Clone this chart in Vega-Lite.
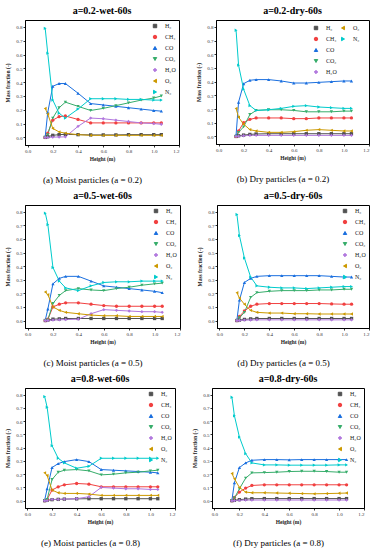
{
"$schema": "https://vega.github.io/schema/vega-lite/v6.json",
"background": "white",
"padding": {"left": 5, "top": 5, "right": 2, "bottom": 0},
"config": {
 "font": "Liberation Serif",
 "view": {"stroke": "#000", "strokeWidth": 1},
 "axis": {"grid": false, "domainColor": "#000", "domainWidth": 1, "tickColor": "#000", "tickSize": 2, "tickWidth": 0.8, "labelFontSize": 5, "labelColor": "#333", "labelPadding": 1, "titleFontSize": 5.5, "titleFontWeight": "bold", "titleColor": "#222", "titlePadding": 3, "labelFont": "Liberation Serif", "titleFont": "Liberation Serif"},
 "axisY": {"titlePadding": 5},
 "legend": {"orient": "top-right", "offset": 3, "padding": 0, "labelFontSize": 6, "labelFont": "Liberation Serif", "labelColor": "#222", "symbolSize": 12, "rowPadding": 3, "labelOffset": 7, "symbolStrokeWidth": 0},
 "title": {"fontSize": 10, "font": "Liberation Serif", "fontWeight": "bold", "offset": 4, "color": "#000", "frame": "group", "anchor": "middle"},
 "point": {"filled": true, "size": 11, "opacity": 1},
 "line": {"strokeWidth": 1},
 "concat": {"spacing": 16}
},
"datasets": {
"pa": [
{"s":"H₂","h":0.14,"v":0},{"s":"H₂","h":0.16,"v":0.005},{"s":"H₂","h":0.2,"v":0.015},{"s":"H₂","h":0.25,"v":0.02},{"s":"H₂","h":0.3,"v":0.022},{"s":"H₂","h":0.4,"v":0.02},{"s":"H₂","h":0.5,"v":0.018},{"s":"H₂","h":0.6,"v":0.018},{"s":"H₂","h":0.7,"v":0.018},{"s":"H₂","h":0.8,"v":0.02},{"s":"H₂","h":0.9,"v":0.02},{"s":"H₂","h":1.0,"v":0.02},{"s":"H₂","h":1.06,"v":0.02},
{"s":"CH₄","h":0.14,"v":0},{"s":"CH₄","h":0.16,"v":0.03},{"s":"CH₄","h":0.2,"v":0.125},{"s":"CH₄","h":0.25,"v":0.15},{"s":"CH₄","h":0.3,"v":0.155},{"s":"CH₄","h":0.4,"v":0.13},{"s":"CH₄","h":0.5,"v":0.105},{"s":"CH₄","h":0.6,"v":0.105},{"s":"CH₄","h":0.7,"v":0.105},{"s":"CH₄","h":0.8,"v":0.105},{"s":"CH₄","h":0.9,"v":0.105},{"s":"CH₄","h":1.0,"v":0.105},{"s":"CH₄","h":1.06,"v":0.105},
{"s":"CO","h":0.14,"v":0.005},{"s":"CO","h":0.16,"v":0.18},{"s":"CO","h":0.2,"v":0.37},{"s":"CO","h":0.25,"v":0.39},{"s":"CO","h":0.3,"v":0.39},{"s":"CO","h":0.4,"v":0.32},{"s":"CO","h":0.5,"v":0.245},{"s":"CO","h":0.6,"v":0.235},{"s":"CO","h":0.7,"v":0.225},{"s":"CO","h":0.8,"v":0.215},{"s":"CO","h":0.9,"v":0.205},{"s":"CO","h":1.0,"v":0.195},{"s":"CO","h":1.06,"v":0.19},
{"s":"CO₂","h":0.14,"v":0},{"s":"CO₂","h":0.16,"v":0.02},{"s":"CO₂","h":0.2,"v":0.14},{"s":"CO₂","h":0.25,"v":0.215},{"s":"CO₂","h":0.3,"v":0.255},{"s":"CO₂","h":0.4,"v":0.225},{"s":"CO₂","h":0.5,"v":0.195},{"s":"CO₂","h":0.6,"v":0.21},{"s":"CO₂","h":0.7,"v":0.23},{"s":"CO₂","h":0.8,"v":0.25},{"s":"CO₂","h":0.9,"v":0.27},{"s":"CO₂","h":1.0,"v":0.285},{"s":"CO₂","h":1.06,"v":0.3},
{"s":"H₂O","h":0.14,"v":0},{"s":"H₂O","h":0.16,"v":0},{"s":"H₂O","h":0.2,"v":0.002},{"s":"H₂O","h":0.25,"v":0.003},{"s":"H₂O","h":0.3,"v":0.004},{"s":"H₂O","h":0.4,"v":0.08},{"s":"H₂O","h":0.5,"v":0.14},{"s":"H₂O","h":0.6,"v":0.135},{"s":"H₂O","h":0.7,"v":0.125},{"s":"H₂O","h":0.8,"v":0.115},{"s":"H₂O","h":0.9,"v":0.105},{"s":"H₂O","h":1.0,"v":0.1},{"s":"H₂O","h":1.06,"v":0.095},
{"s":"O₂","h":0.14,"v":0.21},{"s":"O₂","h":0.16,"v":0.17},{"s":"O₂","h":0.2,"v":0.065},{"s":"O₂","h":0.25,"v":0.04},{"s":"O₂","h":0.3,"v":0.03},{"s":"O₂","h":0.4,"v":0.02},{"s":"O₂","h":0.5,"v":0.015},{"s":"O₂","h":0.6,"v":0.015},{"s":"O₂","h":0.7,"v":0.015},{"s":"O₂","h":0.8,"v":0.015},{"s":"O₂","h":0.9,"v":0.015},{"s":"O₂","h":1.0,"v":0.015},{"s":"O₂","h":1.06,"v":0.015},
{"s":"N₂","h":0.14,"v":0.79},{"s":"N₂","h":0.16,"v":0.61},{"s":"N₂","h":0.2,"v":0.27},{"s":"N₂","h":0.25,"v":0.175},{"s":"N₂","h":0.3,"v":0.14},{"s":"N₂","h":0.4,"v":0.205},{"s":"N₂","h":0.5,"v":0.28},{"s":"N₂","h":0.6,"v":0.28},{"s":"N₂","h":0.7,"v":0.28},{"s":"N₂","h":0.8,"v":0.275},{"s":"N₂","h":0.9,"v":0.275},{"s":"N₂","h":1.0,"v":0.27},{"s":"N₂","h":1.06,"v":0.27}
],
"pb": [
{"s":"H₂","h":0.14,"v":0},{"s":"H₂","h":0.16,"v":0.005},{"s":"H₂","h":0.2,"v":0.01},{"s":"H₂","h":0.25,"v":0.015},{"s":"H₂","h":0.3,"v":0.018},{"s":"H₂","h":0.4,"v":0.02},{"s":"H₂","h":0.5,"v":0.02},{"s":"H₂","h":0.6,"v":0.02},{"s":"H₂","h":0.7,"v":0.02},{"s":"H₂","h":0.8,"v":0.02},{"s":"H₂","h":0.9,"v":0.02},{"s":"H₂","h":1.0,"v":0.02},{"s":"H₂","h":1.06,"v":0.02},
{"s":"CH₄","h":0.14,"v":0},{"s":"CH₄","h":0.16,"v":0.04},{"s":"CH₄","h":0.2,"v":0.1},{"s":"CH₄","h":0.25,"v":0.125},{"s":"CH₄","h":0.3,"v":0.135},{"s":"CH₄","h":0.4,"v":0.135},{"s":"CH₄","h":0.5,"v":0.135},{"s":"CH₄","h":0.6,"v":0.13},{"s":"CH₄","h":0.7,"v":0.13},{"s":"CH₄","h":0.8,"v":0.135},{"s":"CH₄","h":0.9,"v":0.135},{"s":"CH₄","h":1.0,"v":0.135},{"s":"CH₄","h":1.06,"v":0.135},
{"s":"CO","h":0.14,"v":0.01},{"s":"CO","h":0.16,"v":0.25},{"s":"CO","h":0.2,"v":0.385},{"s":"CO","h":0.25,"v":0.41},{"s":"CO","h":0.3,"v":0.415},{"s":"CO","h":0.4,"v":0.415},{"s":"CO","h":0.5,"v":0.405},{"s":"CO","h":0.6,"v":0.39},{"s":"CO","h":0.7,"v":0.39},{"s":"CO","h":0.8,"v":0.395},{"s":"CO","h":0.9,"v":0.4},{"s":"CO","h":1.0,"v":0.405},{"s":"CO","h":1.06,"v":0.405},
{"s":"CO₂","h":0.14,"v":0},{"s":"CO₂","h":0.16,"v":0.03},{"s":"CO₂","h":0.2,"v":0.07},{"s":"CO₂","h":0.25,"v":0.16},{"s":"CO₂","h":0.3,"v":0.19},{"s":"CO₂","h":0.4,"v":0.195},{"s":"CO₂","h":0.5,"v":0.195},{"s":"CO₂","h":0.6,"v":0.19},{"s":"CO₂","h":0.7,"v":0.18},{"s":"CO₂","h":0.8,"v":0.18},{"s":"CO₂","h":0.9,"v":0.18},{"s":"CO₂","h":1.0,"v":0.185},{"s":"CO₂","h":1.06,"v":0.185},
{"s":"H₂O","h":0.14,"v":0},{"s":"H₂O","h":0.16,"v":0.002},{"s":"H₂O","h":0.2,"v":0.005},{"s":"H₂O","h":0.25,"v":0.008},{"s":"H₂O","h":0.3,"v":0.008},{"s":"H₂O","h":0.4,"v":0.008},{"s":"H₂O","h":0.5,"v":0.008},{"s":"H₂O","h":0.6,"v":0.008},{"s":"H₂O","h":0.7,"v":0.008},{"s":"H₂O","h":0.8,"v":0.008},{"s":"H₂O","h":0.9,"v":0.008},{"s":"H₂O","h":1.0,"v":0.008},{"s":"H₂O","h":1.06,"v":0.008},
{"s":"O₂","h":0.14,"v":0.205},{"s":"O₂","h":0.16,"v":0.14},{"s":"O₂","h":0.2,"v":0.09},{"s":"O₂","h":0.25,"v":0.05},{"s":"O₂","h":0.3,"v":0.04},{"s":"O₂","h":0.4,"v":0.03},{"s":"O₂","h":0.5,"v":0.03},{"s":"O₂","h":0.6,"v":0.035},{"s":"O₂","h":0.7,"v":0.045},{"s":"O₂","h":0.8,"v":0.05},{"s":"O₂","h":0.9,"v":0.045},{"s":"O₂","h":1.0,"v":0.04},{"s":"O₂","h":1.06,"v":0.04},
{"s":"N₂","h":0.14,"v":0.775},{"s":"N₂","h":0.16,"v":0.52},{"s":"N₂","h":0.2,"v":0.345},{"s":"N₂","h":0.25,"v":0.225},{"s":"N₂","h":0.3,"v":0.19},{"s":"N₂","h":0.4,"v":0.195},{"s":"N₂","h":0.5,"v":0.205},{"s":"N₂","h":0.6,"v":0.22},{"s":"N₂","h":0.7,"v":0.225},{"s":"N₂","h":0.8,"v":0.215},{"s":"N₂","h":0.9,"v":0.21},{"s":"N₂","h":1.0,"v":0.205},{"s":"N₂","h":1.06,"v":0.205}
],
"pc": [
{"s":"H₂","h":0.14,"v":0},{"s":"H₂","h":0.16,"v":0.003},{"s":"H₂","h":0.2,"v":0.01},{"s":"H₂","h":0.25,"v":0.012},{"s":"H₂","h":0.3,"v":0.015},{"s":"H₂","h":0.4,"v":0.015},{"s":"H₂","h":0.5,"v":0.015},{"s":"H₂","h":0.6,"v":0.015},{"s":"H₂","h":0.7,"v":0.015},{"s":"H₂","h":0.8,"v":0.015},{"s":"H₂","h":0.9,"v":0.015},{"s":"H₂","h":1.0,"v":0.015},{"s":"H₂","h":1.06,"v":0.015},
{"s":"CH₄","h":0.14,"v":0},{"s":"CH₄","h":0.16,"v":0.01},{"s":"CH₄","h":0.2,"v":0.1},{"s":"CH₄","h":0.25,"v":0.12},{"s":"CH₄","h":0.3,"v":0.13},{"s":"CH₄","h":0.4,"v":0.13},{"s":"CH₄","h":0.5,"v":0.12},{"s":"CH₄","h":0.6,"v":0.11},{"s":"CH₄","h":0.7,"v":0.105},{"s":"CH₄","h":0.8,"v":0.105},{"s":"CH₄","h":0.9,"v":0.105},{"s":"CH₄","h":1.0,"v":0.105},{"s":"CH₄","h":1.06,"v":0.105},
{"s":"CO","h":0.14,"v":0.005},{"s":"CO","h":0.16,"v":0.085},{"s":"CO","h":0.2,"v":0.27},{"s":"CO","h":0.25,"v":0.31},{"s":"CO","h":0.3,"v":0.325},{"s":"CO","h":0.4,"v":0.325},{"s":"CO","h":0.5,"v":0.29},{"s":"CO","h":0.6,"v":0.255},{"s":"CO","h":0.7,"v":0.245},{"s":"CO","h":0.8,"v":0.235},{"s":"CO","h":0.9,"v":0.225},{"s":"CO","h":1.0,"v":0.215},{"s":"CO","h":1.06,"v":0.205},
{"s":"CO₂","h":0.14,"v":0},{"s":"CO₂","h":0.16,"v":0.005},{"s":"CO₂","h":0.2,"v":0.125},{"s":"CO₂","h":0.25,"v":0.185},{"s":"CO₂","h":0.3,"v":0.22},{"s":"CO₂","h":0.4,"v":0.235},{"s":"CO₂","h":0.5,"v":0.225},{"s":"CO₂","h":0.6,"v":0.22},{"s":"CO₂","h":0.7,"v":0.235},{"s":"CO₂","h":0.8,"v":0.245},{"s":"CO₂","h":0.9,"v":0.26},{"s":"CO₂","h":1.0,"v":0.27},{"s":"CO₂","h":1.06,"v":0.275},
{"s":"H₂O","h":0.14,"v":0},{"s":"H₂O","h":0.16,"v":0},{"s":"H₂O","h":0.2,"v":0.003},{"s":"H₂O","h":0.25,"v":0.005},{"s":"H₂O","h":0.3,"v":0.007},{"s":"H₂O","h":0.4,"v":0.01},{"s":"H₂O","h":0.5,"v":0.05},{"s":"H₂O","h":0.6,"v":0.08},{"s":"H₂O","h":0.7,"v":0.075},{"s":"H₂O","h":0.8,"v":0.07},{"s":"H₂O","h":0.9,"v":0.065},{"s":"H₂O","h":1.0,"v":0.065},{"s":"H₂O","h":1.06,"v":0.06},
{"s":"O₂","h":0.14,"v":0.21},{"s":"O₂","h":0.16,"v":0.19},{"s":"O₂","h":0.2,"v":0.1},{"s":"O₂","h":0.25,"v":0.075},{"s":"O₂","h":0.3,"v":0.06},{"s":"O₂","h":0.4,"v":0.05},{"s":"O₂","h":0.5,"v":0.04},{"s":"O₂","h":0.6,"v":0.035},{"s":"O₂","h":0.7,"v":0.035},{"s":"O₂","h":0.8,"v":0.03},{"s":"O₂","h":0.9,"v":0.03},{"s":"O₂","h":1.0,"v":0.03},{"s":"O₂","h":1.06,"v":0.03},
{"s":"N₂","h":0.14,"v":0.79},{"s":"N₂","h":0.16,"v":0.705},{"s":"N₂","h":0.2,"v":0.39},{"s":"N₂","h":0.25,"v":0.29},{"s":"N₂","h":0.3,"v":0.24},{"s":"N₂","h":0.4,"v":0.22},{"s":"N₂","h":0.5,"v":0.255},{"s":"N₂","h":0.6,"v":0.28},{"s":"N₂","h":0.7,"v":0.285},{"s":"N₂","h":0.8,"v":0.285},{"s":"N₂","h":0.9,"v":0.29},{"s":"N₂","h":1.0,"v":0.29},{"s":"N₂","h":1.06,"v":0.29}
],
"pd": [
{"s":"H₂","h":0.14,"v":0},{"s":"H₂","h":0.16,"v":0.003},{"s":"H₂","h":0.2,"v":0.008},{"s":"H₂","h":0.25,"v":0.012},{"s":"H₂","h":0.3,"v":0.015},{"s":"H₂","h":0.4,"v":0.015},{"s":"H₂","h":0.5,"v":0.015},{"s":"H₂","h":0.6,"v":0.015},{"s":"H₂","h":0.7,"v":0.015},{"s":"H₂","h":0.8,"v":0.015},{"s":"H₂","h":0.9,"v":0.015},{"s":"H₂","h":1.0,"v":0.015},{"s":"H₂","h":1.06,"v":0.015},
{"s":"CH₄","h":0.14,"v":0},{"s":"CH₄","h":0.16,"v":0.03},{"s":"CH₄","h":0.2,"v":0.07},{"s":"CH₄","h":0.25,"v":0.105},{"s":"CH₄","h":0.3,"v":0.12},{"s":"CH₄","h":0.4,"v":0.125},{"s":"CH₄","h":0.5,"v":0.125},{"s":"CH₄","h":0.6,"v":0.125},{"s":"CH₄","h":0.7,"v":0.125},{"s":"CH₄","h":0.8,"v":0.125},{"s":"CH₄","h":0.9,"v":0.122},{"s":"CH₄","h":1.0,"v":0.12},{"s":"CH₄","h":1.06,"v":0.12},
{"s":"CO","h":0.14,"v":0.005},{"s":"CO","h":0.16,"v":0.15},{"s":"CO","h":0.2,"v":0.28},{"s":"CO","h":0.25,"v":0.31},{"s":"CO","h":0.3,"v":0.325},{"s":"CO","h":0.4,"v":0.33},{"s":"CO","h":0.5,"v":0.33},{"s":"CO","h":0.6,"v":0.33},{"s":"CO","h":0.7,"v":0.33},{"s":"CO","h":0.8,"v":0.33},{"s":"CO","h":0.9,"v":0.325},{"s":"CO","h":1.0,"v":0.32},{"s":"CO","h":1.06,"v":0.32},
{"s":"CO₂","h":0.14,"v":0},{"s":"CO₂","h":0.16,"v":0.02},{"s":"CO₂","h":0.2,"v":0.06},{"s":"CO₂","h":0.25,"v":0.17},{"s":"CO₂","h":0.3,"v":0.205},{"s":"CO₂","h":0.4,"v":0.215},{"s":"CO₂","h":0.5,"v":0.22},{"s":"CO₂","h":0.6,"v":0.22},{"s":"CO₂","h":0.7,"v":0.22},{"s":"CO₂","h":0.8,"v":0.225},{"s":"CO₂","h":0.9,"v":0.225},{"s":"CO₂","h":1.0,"v":0.23},{"s":"CO₂","h":1.06,"v":0.23},
{"s":"H₂O","h":0.14,"v":0},{"s":"H₂O","h":0.16,"v":0},{"s":"H₂O","h":0.2,"v":0.003},{"s":"H₂O","h":0.25,"v":0.004},{"s":"H₂O","h":0.3,"v":0.005},{"s":"H₂O","h":0.4,"v":0.005},{"s":"H₂O","h":0.5,"v":0.005},{"s":"H₂O","h":0.6,"v":0.005},{"s":"H₂O","h":0.7,"v":0.005},{"s":"H₂O","h":0.8,"v":0.005},{"s":"H₂O","h":0.9,"v":0.005},{"s":"H₂O","h":1.0,"v":0.005},{"s":"H₂O","h":1.06,"v":0.005},
{"s":"O₂","h":0.14,"v":0.205},{"s":"O₂","h":0.16,"v":0.165},{"s":"O₂","h":0.2,"v":0.12},{"s":"O₂","h":0.25,"v":0.075},{"s":"O₂","h":0.3,"v":0.06},{"s":"O₂","h":0.4,"v":0.055},{"s":"O₂","h":0.5,"v":0.055},{"s":"O₂","h":0.6,"v":0.05},{"s":"O₂","h":0.7,"v":0.05},{"s":"O₂","h":0.8,"v":0.048},{"s":"O₂","h":0.9,"v":0.048},{"s":"O₂","h":1.0,"v":0.048},{"s":"O₂","h":1.06,"v":0.048},
{"s":"N₂","h":0.14,"v":0.78},{"s":"N₂","h":0.16,"v":0.625},{"s":"N₂","h":0.2,"v":0.46},{"s":"N₂","h":0.25,"v":0.32},{"s":"N₂","h":0.3,"v":0.255},{"s":"N₂","h":0.4,"v":0.245},{"s":"N₂","h":0.5,"v":0.24},{"s":"N₂","h":0.6,"v":0.24},{"s":"N₂","h":0.7,"v":0.235},{"s":"N₂","h":0.8,"v":0.24},{"s":"N₂","h":0.9,"v":0.245},{"s":"N₂","h":1.0,"v":0.25},{"s":"N₂","h":1.06,"v":0.25}
],
"pe": [
{"s":"H₂","h":0.14,"v":0},{"s":"H₂","h":0.16,"v":0.003},{"s":"H₂","h":0.2,"v":0.008},{"s":"H₂","h":0.25,"v":0.01},{"s":"H₂","h":0.3,"v":0.012},{"s":"H₂","h":0.4,"v":0.014},{"s":"H₂","h":0.5,"v":0.015},{"s":"H₂","h":0.6,"v":0.015},{"s":"H₂","h":0.7,"v":0.015},{"s":"H₂","h":0.8,"v":0.015},{"s":"H₂","h":0.9,"v":0.015},{"s":"H₂","h":1.0,"v":0.015},{"s":"H₂","h":1.06,"v":0.015},
{"s":"CH₄","h":0.14,"v":0},{"s":"CH₄","h":0.16,"v":0.01},{"s":"CH₄","h":0.2,"v":0.08},{"s":"CH₄","h":0.25,"v":0.105},{"s":"CH₄","h":0.3,"v":0.12},{"s":"CH₄","h":0.4,"v":0.13},{"s":"CH₄","h":0.5,"v":0.125},{"s":"CH₄","h":0.6,"v":0.105},{"s":"CH₄","h":0.7,"v":0.105},{"s":"CH₄","h":0.8,"v":0.105},{"s":"CH₄","h":0.9,"v":0.105},{"s":"CH₄","h":1.0,"v":0.105},{"s":"CH₄","h":1.06,"v":0.105},
{"s":"CO","h":0.14,"v":0.005},{"s":"CO","h":0.16,"v":0.09},{"s":"CO","h":0.2,"v":0.25},{"s":"CO","h":0.25,"v":0.28},{"s":"CO","h":0.3,"v":0.295},{"s":"CO","h":0.4,"v":0.31},{"s":"CO","h":0.5,"v":0.295},{"s":"CO","h":0.6,"v":0.235},{"s":"CO","h":0.7,"v":0.23},{"s":"CO","h":0.8,"v":0.225},{"s":"CO","h":0.9,"v":0.22},{"s":"CO","h":1.0,"v":0.215},{"s":"CO","h":1.06,"v":0.21},
{"s":"CO₂","h":0.14,"v":0},{"s":"CO₂","h":0.16,"v":0.01},{"s":"CO₂","h":0.2,"v":0.16},{"s":"CO₂","h":0.25,"v":0.215},{"s":"CO₂","h":0.3,"v":0.23},{"s":"CO₂","h":0.4,"v":0.235},{"s":"CO₂","h":0.5,"v":0.225},{"s":"CO₂","h":0.6,"v":0.195},{"s":"CO₂","h":0.7,"v":0.2},{"s":"CO₂","h":0.8,"v":0.21},{"s":"CO₂","h":0.9,"v":0.215},{"s":"CO₂","h":1.0,"v":0.225},{"s":"CO₂","h":1.06,"v":0.23},
{"s":"H₂O","h":0.14,"v":0},{"s":"H₂O","h":0.16,"v":0},{"s":"H₂O","h":0.2,"v":0.01},{"s":"H₂O","h":0.25,"v":0.01},{"s":"H₂O","h":0.3,"v":0.012},{"s":"H₂O","h":0.4,"v":0.015},{"s":"H₂O","h":0.5,"v":0.03},{"s":"H₂O","h":0.6,"v":0.1},{"s":"H₂O","h":0.7,"v":0.095},{"s":"H₂O","h":0.8,"v":0.09},{"s":"H₂O","h":0.9,"v":0.09},{"s":"H₂O","h":1.0,"v":0.085},{"s":"H₂O","h":1.06,"v":0.085},
{"s":"O₂","h":0.14,"v":0.21},{"s":"O₂","h":0.16,"v":0.19},{"s":"O₂","h":0.2,"v":0.08},{"s":"O₂","h":0.25,"v":0.06},{"s":"O₂","h":0.3,"v":0.055},{"s":"O₂","h":0.4,"v":0.055},{"s":"O₂","h":0.5,"v":0.05},{"s":"O₂","h":0.6,"v":0.04},{"s":"O₂","h":0.7,"v":0.04},{"s":"O₂","h":0.8,"v":0.04},{"s":"O₂","h":0.9,"v":0.04},{"s":"O₂","h":1.0,"v":0.04},{"s":"O₂","h":1.06,"v":0.04},
{"s":"N₂","h":0.14,"v":0.785},{"s":"N₂","h":0.16,"v":0.705},{"s":"N₂","h":0.2,"v":0.415},{"s":"N₂","h":0.25,"v":0.32},{"s":"N₂","h":0.3,"v":0.285},{"s":"N₂","h":0.4,"v":0.245},{"s":"N₂","h":0.5,"v":0.26},{"s":"N₂","h":0.6,"v":0.32},{"s":"N₂","h":0.7,"v":0.32},{"s":"N₂","h":0.8,"v":0.32},{"s":"N₂","h":0.9,"v":0.32},{"s":"N₂","h":1.0,"v":0.32},{"s":"N₂","h":1.06,"v":0.32}
],
"pf": [
{"s":"H₂","h":0.14,"v":0},{"s":"H₂","h":0.16,"v":0.003},{"s":"H₂","h":0.2,"v":0.008},{"s":"H₂","h":0.25,"v":0.012},{"s":"H₂","h":0.3,"v":0.015},{"s":"H₂","h":0.4,"v":0.016},{"s":"H₂","h":0.5,"v":0.016},{"s":"H₂","h":0.6,"v":0.016},{"s":"H₂","h":0.7,"v":0.016},{"s":"H₂","h":0.8,"v":0.016},{"s":"H₂","h":0.9,"v":0.016},{"s":"H₂","h":1.0,"v":0.016},{"s":"H₂","h":1.06,"v":0.016},
{"s":"CH₄","h":0.14,"v":0},{"s":"CH₄","h":0.16,"v":0.025},{"s":"CH₄","h":0.2,"v":0.065},{"s":"CH₄","h":0.25,"v":0.095},{"s":"CH₄","h":0.3,"v":0.115},{"s":"CH₄","h":0.4,"v":0.12},{"s":"CH₄","h":0.5,"v":0.12},{"s":"CH₄","h":0.6,"v":0.12},{"s":"CH₄","h":0.7,"v":0.12},{"s":"CH₄","h":0.8,"v":0.12},{"s":"CH₄","h":0.9,"v":0.12},{"s":"CH₄","h":1.0,"v":0.12},{"s":"CH₄","h":1.06,"v":0.12},
{"s":"CO","h":0.14,"v":0.005},{"s":"CO","h":0.16,"v":0.135},{"s":"CO","h":0.2,"v":0.25},{"s":"CO","h":0.25,"v":0.285},{"s":"CO","h":0.3,"v":0.305},{"s":"CO","h":0.4,"v":0.31},{"s":"CO","h":0.5,"v":0.31},{"s":"CO","h":0.6,"v":0.308},{"s":"CO","h":0.7,"v":0.31},{"s":"CO","h":0.8,"v":0.31},{"s":"CO","h":0.9,"v":0.31},{"s":"CO","h":1.0,"v":0.31},{"s":"CO","h":1.06,"v":0.31},
{"s":"CO₂","h":0.14,"v":0},{"s":"CO₂","h":0.16,"v":0.02},{"s":"CO₂","h":0.2,"v":0.09},{"s":"CO₂","h":0.25,"v":0.17},{"s":"CO₂","h":0.3,"v":0.21},{"s":"CO₂","h":0.4,"v":0.212},{"s":"CO₂","h":0.5,"v":0.215},{"s":"CO₂","h":0.6,"v":0.22},{"s":"CO₂","h":0.7,"v":0.222},{"s":"CO₂","h":0.8,"v":0.222},{"s":"CO₂","h":0.9,"v":0.22},{"s":"CO₂","h":1.0,"v":0.215},{"s":"CO₂","h":1.06,"v":0.215},
{"s":"H₂O","h":0.14,"v":0},{"s":"H₂O","h":0.16,"v":0},{"s":"H₂O","h":0.2,"v":0.003},{"s":"H₂O","h":0.25,"v":0.005},{"s":"H₂O","h":0.3,"v":0.005},{"s":"H₂O","h":0.4,"v":0.005},{"s":"H₂O","h":0.5,"v":0.005},{"s":"H₂O","h":0.6,"v":0.005},{"s":"H₂O","h":0.7,"v":0.005},{"s":"H₂O","h":0.8,"v":0.005},{"s":"H₂O","h":0.9,"v":0.005},{"s":"H₂O","h":1.0,"v":0.005},{"s":"H₂O","h":1.06,"v":0.005},
{"s":"O₂","h":0.14,"v":0.205},{"s":"O₂","h":0.16,"v":0.165},{"s":"O₂","h":0.2,"v":0.1},{"s":"O₂","h":0.25,"v":0.065},{"s":"O₂","h":0.3,"v":0.06},{"s":"O₂","h":0.4,"v":0.06},{"s":"O₂","h":0.5,"v":0.058},{"s":"O₂","h":0.6,"v":0.056},{"s":"O₂","h":0.7,"v":0.054},{"s":"O₂","h":0.8,"v":0.052},{"s":"O₂","h":0.9,"v":0.054},{"s":"O₂","h":1.0,"v":0.056},{"s":"O₂","h":1.06,"v":0.058},
{"s":"N₂","h":0.14,"v":0.78},{"s":"N₂","h":0.16,"v":0.64},{"s":"N₂","h":0.2,"v":0.48},{"s":"N₂","h":0.25,"v":0.355},{"s":"N₂","h":0.3,"v":0.285},{"s":"N₂","h":0.4,"v":0.27},{"s":"N₂","h":0.5,"v":0.27},{"s":"N₂","h":0.6,"v":0.268},{"s":"N₂","h":0.7,"v":0.268},{"s":"N₂","h":0.8,"v":0.268},{"s":"N₂","h":0.9,"v":0.268},{"s":"N₂","h":1.0,"v":0.27},{"s":"N₂","h":1.06,"v":0.27}
]
},
"resolve": {"scale": {"color": "independent", "shape": "independent"}},
"spacing": 5,
"vconcat": [
 {"resolve": {"scale": {"color": "independent", "shape": "independent"}},
  "hconcat": [
   {"title": {"text": "(a) Moist particles (a = 0.2)", "orient": "bottom", "fontSize": 9, "fontWeight": "normal", "offset": 14, "frame": "bounds", "anchor": "middle"},
    "resolve": {"scale": {"color": "independent", "shape": "independent"}},
    "vconcat": [
     {"title": "a=0.2-wet-60s", "width": 154, "height": 125, "data": {"name": "pa"},
      "encoding": {
       "x": {"field": "h", "type": "quantitative", "scale": {"domain": [-0.02, 1.2], "nice": false, "zero": false}, "axis": {"title": "Height (m)", "values": [0, 0.2, 0.4, 0.6, 0.8, 1.0, 1.2], "format": ".1f"}},
       "y": {"field": "v", "type": "quantitative", "scale": {"domain": [-0.055, 0.85], "nice": false, "zero": false}, "axis": {"title": "Mass fraction (-)", "values": [0, 0.1, 0.2, 0.3, 0.4, 0.5, 0.6, 0.7, 0.8], "format": ".1f"}},
       "color": {"field": "s", "type": "nominal", "title": null, "scale": {"domain": ["H₂","CH₄","CO","CO₂","H₂O","O₂","N₂"], "range": ["#515151","#F14040","#1A6FDF","#37AD6B","#B177DE","#CC9900","#00CBCC"]}}
      },
      "layer": [
       {"mark": "line"},
       {"mark": "point", "encoding": {"shape": {"field": "s", "type": "nominal", "title": null, "scale": {"domain": ["H₂","CH₄","CO","CO₂","H₂O","O₂","N₂"], "range": ["square","circle","triangle-up","triangle-down","diamond","triangle-left","triangle-right"]}}}}
      ]}
    ]},
   {"title": {"text": "(b) Dry particles (a = 0.2)", "orient": "bottom", "fontSize": 9, "fontWeight": "normal", "offset": 14, "frame": "bounds", "anchor": "middle"},
    "resolve": {"scale": {"color": "independent", "shape": "independent"}},
    "vconcat": [
     {"title": "a=0.2-dry-60s", "width": 153, "height": 124, "data": {"name": "pb"},
      "encoding": {
       "x": {"field": "h", "type": "quantitative", "scale": {"domain": [-0.02, 1.2], "nice": false, "zero": false}, "axis": {"title": "Height (m)", "values": [0, 0.2, 0.4, 0.6, 0.8, 1.0, 1.2], "format": ".1f"}},
       "y": {"field": "v", "type": "quantitative", "scale": {"domain": [-0.055, 0.85], "nice": false, "zero": false}, "axis": {"title": "Mass fraction (-)", "values": [0, 0.1, 0.2, 0.3, 0.4, 0.5, 0.6, 0.7, 0.8], "format": ".1f"}}
      },
      "resolve": {"scale": {"color": "independent", "shape": "independent"}},
      "layer": [
       {"transform": [{"filter": {"field": "s", "oneOf": ["H₂","CH₄","CO","CO₂","H₂O"]}}],
        "encoding": {"color": {"field": "s", "type": "nominal", "title": null, "scale": {"domain": ["H₂","CH₄","CO","CO₂","H₂O"], "range": ["#515151","#F14040","#1A6FDF","#37AD6B","#B177DE"]}, "legend": {"orient": "none", "legendX": 97, "legendY": 5}}},
        "layer": [
         {"mark": "line"},
         {"mark": "point", "encoding": {"shape": {"field": "s", "type": "nominal", "title": null, "scale": {"domain": ["H₂","CH₄","CO","CO₂","H₂O"], "range": ["square","circle","triangle-up","triangle-down","diamond"]}, "legend": {"orient": "none", "legendX": 97, "legendY": 5}}}}
        ]},
       {"transform": [{"filter": {"field": "s", "oneOf": ["O₂","N₂"]}}],
        "encoding": {"color": {"field": "s", "type": "nominal", "title": null, "scale": {"domain": ["O₂","N₂"], "range": ["#CC9900","#00CBCC"]}, "legend": {"orient": "none", "legendX": 124, "legendY": 5}}},
        "layer": [
         {"mark": "line"},
         {"mark": "point", "encoding": {"shape": {"field": "s", "type": "nominal", "title": null, "scale": {"domain": ["O₂","N₂"], "range": ["triangle-left","triangle-right"]}, "legend": {"orient": "none", "legendX": 124, "legendY": 5}}}}
        ]}
      ]}
    ]}
  ]},
 {"resolve": {"scale": {"color": "independent", "shape": "independent"}},
  "hconcat": [
   {"title": {"text": "(c) Moist particles (a = 0.5)", "orient": "bottom", "fontSize": 9, "fontWeight": "normal", "offset": 14, "frame": "bounds", "anchor": "middle"},
    "resolve": {"scale": {"color": "independent", "shape": "independent"}},
    "vconcat": [
     {"title": "a=0.5-wet-60s", "width": 155, "height": 123, "data": {"name": "pc"},
      "encoding": {
       "x": {"field": "h", "type": "quantitative", "scale": {"domain": [-0.02, 1.2], "nice": false, "zero": false}, "axis": {"title": "Height (m)", "values": [0, 0.2, 0.4, 0.6, 0.8, 1.0, 1.2], "format": ".1f"}},
       "y": {"field": "v", "type": "quantitative", "scale": {"domain": [-0.055, 0.85], "nice": false, "zero": false}, "axis": {"title": "Mass fraction (-)", "values": [0, 0.1, 0.2, 0.3, 0.4, 0.5, 0.6, 0.7, 0.8], "format": ".1f"}},
       "color": {"field": "s", "type": "nominal", "title": null, "scale": {"domain": ["H₂","CH₄","CO","CO₂","H₂O","O₂","N₂"], "range": ["#515151","#F14040","#1A6FDF","#37AD6B","#B177DE","#CC9900","#00CBCC"]}}
      },
      "layer": [
       {"mark": "line"},
       {"mark": "point", "encoding": {"shape": {"field": "s", "type": "nominal", "title": null, "scale": {"domain": ["H₂","CH₄","CO","CO₂","H₂O","O₂","N₂"], "range": ["square","circle","triangle-up","triangle-down","diamond","triangle-left","triangle-right"]}}}}
      ]}
    ]},
   {"title": {"text": "(d) Dry particles (a = 0.5)", "orient": "bottom", "fontSize": 9, "fontWeight": "normal", "offset": 14, "frame": "bounds", "anchor": "middle"},
    "resolve": {"scale": {"color": "independent", "shape": "independent"}},
    "vconcat": [
     {"title": "a=0.5-dry-60s", "width": 152, "height": 123, "data": {"name": "pd"},
      "encoding": {
       "x": {"field": "h", "type": "quantitative", "scale": {"domain": [-0.02, 1.2], "nice": false, "zero": false}, "axis": {"title": "Height (m)", "values": [0, 0.2, 0.4, 0.6, 0.8, 1.0, 1.2], "format": ".1f"}},
       "y": {"field": "v", "type": "quantitative", "scale": {"domain": [-0.055, 0.85], "nice": false, "zero": false}, "axis": {"title": "Mass fraction (-)", "values": [0, 0.1, 0.2, 0.3, 0.4, 0.5, 0.6, 0.7, 0.8], "format": ".1f"}},
       "color": {"field": "s", "type": "nominal", "title": null, "scale": {"domain": ["H₂","CH₄","CO","CO₂","H₂O","O₂","N₂"], "range": ["#515151","#F14040","#1A6FDF","#37AD6B","#B177DE","#CC9900","#00CBCC"]}}
      },
      "layer": [
       {"mark": "line"},
       {"mark": "point", "encoding": {"shape": {"field": "s", "type": "nominal", "title": null, "scale": {"domain": ["H₂","CH₄","CO","CO₂","H₂O","O₂","N₂"], "range": ["square","circle","triangle-up","triangle-down","diamond","triangle-left","triangle-right"]}}}}
      ]}
    ]}
  ]},
 {"resolve": {"scale": {"color": "independent", "shape": "independent"}},
  "hconcat": [
   {"title": {"text": "(e) Moist particles (a = 0.8)", "orient": "bottom", "fontSize": 9, "fontWeight": "normal", "offset": 14, "frame": "bounds", "anchor": "middle"},
    "resolve": {"scale": {"color": "independent", "shape": "independent"}},
    "vconcat": [
     {"title": "a=0.8-wet-60s", "width": 150, "height": 120, "data": {"name": "pe"},
      "encoding": {
       "x": {"field": "h", "type": "quantitative", "scale": {"domain": [-0.02, 1.2], "nice": false, "zero": false}, "axis": {"title": "Height (m)", "values": [0, 0.2, 0.4, 0.6, 0.8, 1.0, 1.2], "format": ".1f"}},
       "y": {"field": "v", "type": "quantitative", "scale": {"domain": [-0.055, 0.85], "nice": false, "zero": false}, "axis": {"title": "Mass fraction (-)", "values": [0, 0.1, 0.2, 0.3, 0.4, 0.5, 0.6, 0.7, 0.8], "format": ".1f"}},
       "color": {"field": "s", "type": "nominal", "title": null, "scale": {"domain": ["H₂","CH₄","CO","CO₂","H₂O","O₂","N₂"], "range": ["#515151","#F14040","#1A6FDF","#37AD6B","#B177DE","#CC9900","#00CBCC"]}}
      },
      "layer": [
       {"mark": "line"},
       {"mark": "point", "encoding": {"shape": {"field": "s", "type": "nominal", "title": null, "scale": {"domain": ["H₂","CH₄","CO","CO₂","H₂O","O₂","N₂"], "range": ["square","circle","triangle-up","triangle-down","diamond","triangle-left","triangle-right"]}}}}
      ]}
    ]},
   {"title": {"text": "(f) Dry particles (a = 0.8)", "orient": "bottom", "fontSize": 9, "fontWeight": "normal", "offset": 14, "frame": "bounds", "anchor": "middle"},
    "resolve": {"scale": {"color": "independent", "shape": "independent"}},
    "vconcat": [
     {"title": "a=0.8-dry-60s", "width": 152, "height": 120, "data": {"name": "pf"},
      "encoding": {
       "x": {"field": "h", "type": "quantitative", "scale": {"domain": [-0.02, 1.2], "nice": false, "zero": false}, "axis": {"title": "Height (m)", "values": [0, 0.2, 0.4, 0.6, 0.8, 1.0, 1.2], "format": ".1f"}},
       "y": {"field": "v", "type": "quantitative", "scale": {"domain": [-0.055, 0.85], "nice": false, "zero": false}, "axis": {"title": "Mass fraction (-)", "values": [0, 0.1, 0.2, 0.3, 0.4, 0.5, 0.6, 0.7, 0.8], "format": ".1f"}},
       "color": {"field": "s", "type": "nominal", "title": null, "scale": {"domain": ["H₂","CH₄","CO","CO₂","H₂O","O₂","N₂"], "range": ["#515151","#F14040","#1A6FDF","#37AD6B","#B177DE","#CC9900","#00CBCC"]}}
      },
      "layer": [
       {"mark": "line"},
       {"mark": "point", "encoding": {"shape": {"field": "s", "type": "nominal", "title": null, "scale": {"domain": ["H₂","CH₄","CO","CO₂","H₂O","O₂","N₂"], "range": ["square","circle","triangle-up","triangle-down","diamond","triangle-left","triangle-right"]}}}}
      ]}
    ]}
  ]}
]
}
